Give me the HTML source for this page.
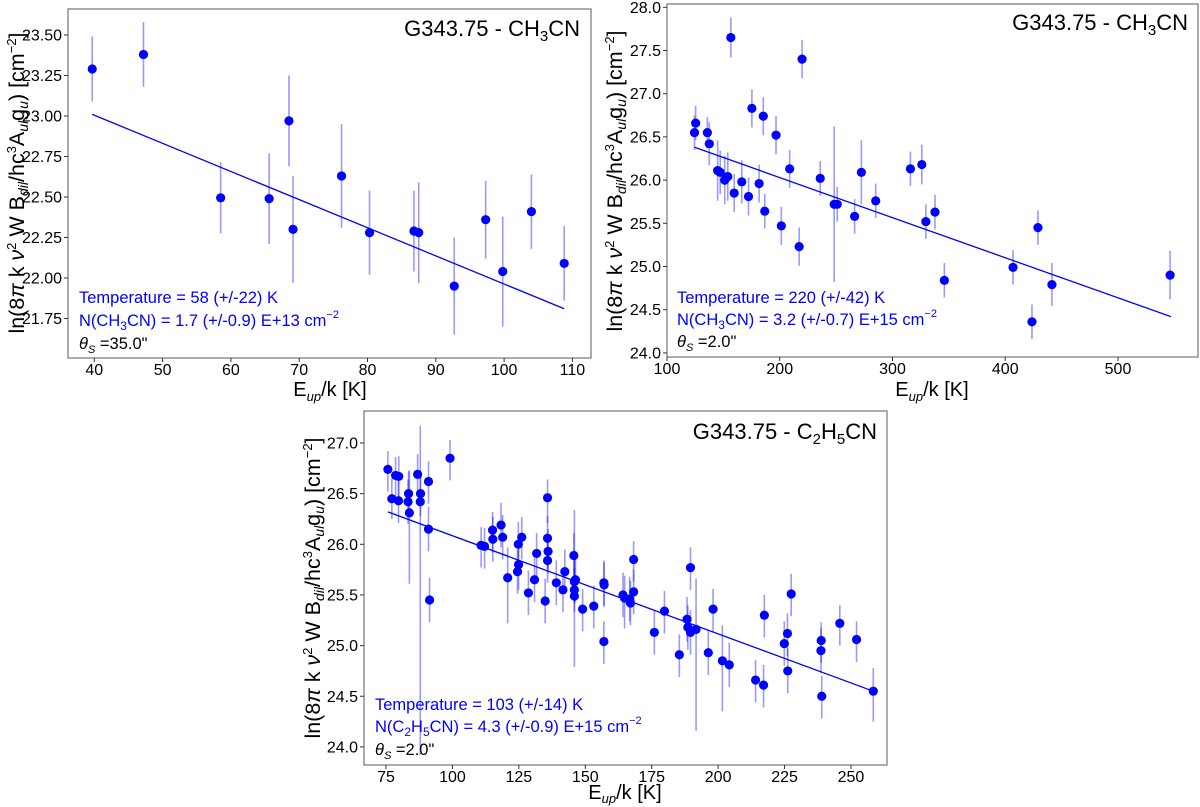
<!DOCTYPE html>
<html><head><meta charset="utf-8"><style>
html,body{margin:0;padding:0;background:#fff;}
svg{display:block;font-family:"Liberation Sans",sans-serif;}
</style></head><body>
<svg id="fig" width="1200" height="807" viewBox="0 0 1200 807"></svg>
<script>
// ---------- Panel 1 data (CH3CN, 35") ----------
const p1X = [39.7,47.2,58.5,65.6,68.5,69.1,76.2,80.3,86.8,87.5,92.7,97.3,99.8,104.0,108.8];
const p1Y = [23.29,23.38,22.495,22.49,22.97,22.30,22.63,22.28,22.29,22.28,21.95,22.36,22.04,22.41,22.09];
const p1Err = [0.2,0.2,0.22,0.28,0.28,0.33,0.32,0.26,0.25,0.31,0.3,0.24,0.34,0.23,0.23];
const p1Fit = [[39.7,23.01],[108.8,21.81]];
const p1XTicks = [40,50,60,70,80,90,100,110];
const p1YTicks = [21.75,22.00,22.25,22.50,22.75,23.00,23.25,23.50];
// ---------- Panel 2 data (CH3CN, 2") ----------
const p2X = [124.4,125.4,135.8,137.5,144.9,147.2,151.2,153.9,156.6,159.6,166.3,172.3,175.3,181.7,185.4,186.7,196.7,201.4,208.8,217.2,219.8,235.9,248.3,251.0,266.4,272.4,285.1,315.9,326.0,329.6,337.7,346.0,406.9,423.7,429.0,441.4,546.2];
const p2Y = [26.55,26.66,26.55,26.42,26.11,26.09,26.0,26.04,27.65,25.85,25.98,25.81,26.83,25.96,26.74,25.64,26.52,25.47,26.13,25.23,27.40,26.02,25.72,25.72,25.58,26.09,25.76,26.13,26.18,25.52,25.63,24.84,24.99,24.36,25.45,24.79,24.90];
const p2Err = [0.2,0.2,0.18,0.25,0.35,0.25,0.28,0.28,0.23,0.22,0.25,0.22,0.22,0.22,0.22,0.2,0.22,0.22,0.22,0.22,0.22,0.2,0.9,0.2,0.2,0.37,0.2,0.2,0.23,0.2,0.2,0.2,0.2,0.2,0.2,0.25,0.28];
const p2Fit = [[124.4,26.38],[546.9,24.42]];
const p2XTicks = [100,200,300,400,500];
const p2YTicks = [24.0,24.5,25.0,25.5,26.0,26.5,27.0,27.5,28.0];
// ---------- Panel 3 data (C2H5CN, 2") ----------
const p3X = [75.7,77.2,78.6,79.8,79.7,83.5,83.3,83.8,86.9,88.0,87.9,91.0,91.0,91.4,99.1,110.8,112.1,115.1,115.2,118.3,118.9,120.8,124.5,124.8,124.9,126.1,128.6,130.9,131.7,134.9,135.8,135.8,136.0,135.8,139.1,141.6,142.3,145.7,145.9,145.9,145.9,146.3,149.0,153.2,157.0,157.1,157.0,164.2,164.8,166.7,167.0,168.2,168.2,176.0,179.8,185.4,188.3,188.6,189.6,189.6,191.7,196.3,198.1,201.6,204.2,214.1,217.1,217.4,224.9,226.1,226.2,227.5,238.8,238.7,239.0,245.8,252.1,258.4];
const p3Y = [26.74,26.45,26.68,26.67,26.43,26.50,26.42,26.31,26.69,26.50,26.42,26.62,26.15,25.45,26.85,25.99,25.98,26.14,26.05,26.19,26.07,25.67,25.73,26.00,25.80,26.07,25.52,25.65,25.91,25.44,26.46,26.06,25.93,25.84,25.62,25.55,25.73,25.89,25.63,25.55,25.49,25.65,25.36,25.39,25.62,25.60,25.04,25.50,25.47,25.46,25.42,25.85,25.53,25.13,25.34,24.91,25.26,25.18,25.77,25.13,25.16,24.93,25.36,24.85,24.81,24.66,24.61,25.30,25.02,25.12,24.75,25.51,25.05,24.95,24.50,25.22,25.06,24.55];
const p3ErrLo = [0.22,0.2,0.25,0.22,0.22,0.22,0.22,0.7,0.22,0.22,2.5,0.22,0.22,0.22,0.22,0.22,0.22,0.22,0.22,0.22,0.22,0.45,0.22,0.22,0.25,0.22,0.22,0.22,0.3,0.22,0.25,0.3,0.22,0.22,0.22,0.22,0.22,0.22,0.22,0.22,0.7,0.22,0.22,0.22,0.22,0.22,0.22,0.22,0.3,0.22,0.22,0.22,0.22,0.22,0.22,0.22,0.22,0.22,0.22,0.22,1.0,0.22,0.22,0.5,0.22,0.22,0.22,0.22,0.22,0.22,0.22,0.22,0.22,0.22,0.22,0.22,0.22,0.3];
const p3ErrHi = [0.18,0.2,0.18,0.2,0.22,0.22,0.22,0.42,0.2,0.22,0.75,0.2,0.22,0.22,0.18,0.18,0.18,0.18,0.22,0.22,0.22,0.3,0.22,0.22,0.25,0.2,0.22,0.22,0.2,0.22,0.18,0.22,0.22,0.22,0.22,0.22,0.22,0.22,0.22,0.22,0.85,0.22,0.2,0.2,0.22,0.22,0.2,0.22,0.22,0.22,0.22,0.18,0.22,0.22,0.2,0.2,0.22,0.22,0.2,0.22,0.5,0.22,0.2,0.35,0.22,0.2,0.2,0.2,0.22,0.2,0.22,0.2,0.18,0.22,0.2,0.18,0.18,0.23];
const p3Fit = [[75.7,26.32],[258.4,24.55]];
const p3XTicks = [75,100,125,150,175,200,225,250];
const p3YTicks = [24.0,24.5,25.0,25.5,26.0,26.5,27.0];

const NS = "http://www.w3.org/2000/svg";
const svg = document.getElementById('fig');
function mk(tag, attrs, parent){
  const e = document.createElementNS(NS, tag);
  for (const k in attrs) e.setAttribute(k, attrs[k]);
  (parent||svg).appendChild(e);
  return e;
}
function panel(cfg){
  const g = mk('g', {});
  
  
  const xs = v => cfg.x0px + (v - cfg.x0v) * cfg.xk;
  const ys = v => cfg.y0px - (v - cfg.y0v) * cfg.yk;
  for (let i = 0; i < cfg.X.length; i++){
    const lo = cfg.lo[i], hi = cfg.hi[i];
    const e = mk('line', {x1: xs(cfg.X[i]), x2: xs(cfg.X[i]), y1: ys(cfg.Y[i] - lo), y2: ys(cfg.Y[i] + hi), stroke: '#0000ff', 'stroke-opacity': 0.4, 'stroke-width': 1.6}, g);
    
    
  }
  const fl = mk('line', {x1: xs(cfg.fit[0][0]), y1: ys(cfg.fit[0][1]), x2: xs(cfg.fit[1][0]), y2: ys(cfg.fit[1][1]), stroke: '#0000ff', 'stroke-width': 1.3}, g);
  
  
  for (let i = 0; i < cfg.X.length; i++){
    const c = mk('circle', {cx: xs(cfg.X[i]), cy: ys(cfg.Y[i]), r: 4.6, fill: '#0000ff'}, g);
    
    
  }
  const fr = mk('rect', {x: cfg.L, y: cfg.T, width: cfg.R - cfg.L, height: cfg.B - cfg.T, fill: 'none', stroke: '#808080', 'stroke-width': 1.3}, g);
  
  
  cfg.xt.forEach(v => {
    mk('line', {x1: xs(v), x2: xs(v), y1: cfg.B, y2: cfg.B + 4, stroke: '#333', 'stroke-width': 1}, g);
    const t = mk('text', {x: xs(v), y: cfg.B + 17, 'text-anchor': 'middle', 'font-size': 16, fill: '#000'}, g);
    t.textContent = String(v);
    
    
  });
  cfg.yt.forEach(v => {
    mk('line', {x1: cfg.L - 4, x2: cfg.L, y1: ys(v), y2: ys(v), stroke: '#333', 'stroke-width': 1}, g);
    const t = mk('text', {x: cfg.L - 6, y: ys(v) + 5.5, 'text-anchor': 'end', 'font-size': 16, fill: '#000'}, g);
    t.textContent = v.toFixed(cfg.ydec);
    
    
  });
}
panel({name:'panel-ch3cn-35', X:p1X, Y:p1Y, lo:p1Err, hi:p1Err, fit:p1Fit, xt:p1XTicks, yt:p1YTicks, ydec:2,
  L:68, T:9, R:591, B:358, x0v:40, x0px:94.3, xk:6.83, y0v:23.5, y0px:35, yk:162});
panel({name:'panel-ch3cn-2', X:p2X, Y:p2Y, lo:p2Err, hi:p2Err, fit:p2Fit, xt:p2XTicks, yt:p2YTicks, ydec:1,
  L:667, T:4, R:1198, B:357, x0v:100, x0px:667, xk:1.1275, y0v:28, y0px:7.3, yk:86.4});
panel({name:'panel-c2h5cn-2', X:p3X, Y:p3Y, lo:p3ErrLo, hi:p3ErrHi, fit:p3Fit, xt:p3XTicks, yt:p3YTicks, ydec:1,
  L:364, T:411, R:887, B:765, x0v:75, x0px:386, xk:2.657, y0v:27, y0px:443, yk:101.3});
</script>
<svg width="1200" height="807" viewBox="0 0 1200 807" style="position:absolute;left:0;top:0;font-family:'Liberation Sans',sans-serif;">
  <text x="580" y="36" text-anchor="end" font-size="22">G343.75 - CH<tspan font-size="15" dy="5">3</tspan><tspan dy="-5">CN</tspan></text>
  <text x="79" y="303" font-size="16.5" fill="#0000ff">Temperature = 58 (+/-22) K</text>
  <text x="79" y="326" font-size="16.5" fill="#0000ff">N(CH<tspan font-size="12" dy="4">3</tspan><tspan dy="-4">CN) = 1.7 (+/-0.9) E+13 cm</tspan><tspan font-size="11" dy="-8">−2</tspan></text>
  <text x="79" y="349" font-size="16.5" fill="#000"><tspan font-style="italic">θ</tspan><tspan font-size="11" dy="4" font-style="italic">S</tspan><tspan dy="-4"> =35.0"</tspan></text>
  <text x="330" y="396" text-anchor="middle" font-size="20">E<tspan font-size="13" dy="5" font-style="italic">up</tspan><tspan dy="-5">/k [K]</tspan></text>
  <text transform="translate(24,183) rotate(-90)" text-anchor="middle" font-size="21.5">ln(8<tspan font-style="italic">π</tspan> k <tspan font-style="italic">ν</tspan><tspan font-size="13" dy="-8">2</tspan><tspan dy="8"> W B</tspan><tspan font-size="14" dy="4" font-style="italic">dil</tspan><tspan dy="-4">/hc</tspan><tspan font-size="13" dy="-8">3</tspan><tspan dy="8">A</tspan><tspan font-size="14" dy="4" font-style="italic">ul</tspan><tspan dy="-4">g</tspan><tspan font-size="14" dy="4" font-style="italic">u</tspan><tspan dy="-4">) [cm</tspan><tspan font-size="13" dy="-8">−2</tspan><tspan dy="8">]</tspan></text>
  <text x="1188" y="30" text-anchor="end" font-size="22">G343.75 - CH<tspan font-size="15" dy="5">3</tspan><tspan dy="-5">CN</tspan></text>
  <text x="677" y="303" font-size="16.5" fill="#0000ff">Temperature = 220 (+/-42) K</text>
  <text x="677" y="325" font-size="16.5" fill="#0000ff">N(CH<tspan font-size="12" dy="4">3</tspan><tspan dy="-4">CN) = 3.2 (+/-0.7) E+15 cm</tspan><tspan font-size="11" dy="-8">−2</tspan></text>
  <text x="677" y="347" font-size="16.5" fill="#000"><tspan font-style="italic">θ</tspan><tspan font-size="11" dy="4" font-style="italic">S</tspan><tspan dy="-4"> =2.0"</tspan></text>
  <text x="932" y="396" text-anchor="middle" font-size="20">E<tspan font-size="13" dy="5" font-style="italic">up</tspan><tspan dy="-5">/k [K]</tspan></text>
  <text transform="translate(622,181) rotate(-90)" text-anchor="middle" font-size="21.5">ln(8<tspan font-style="italic">π</tspan> k <tspan font-style="italic">ν</tspan><tspan font-size="13" dy="-8">2</tspan><tspan dy="8"> W B</tspan><tspan font-size="14" dy="4" font-style="italic">dil</tspan><tspan dy="-4">/hc</tspan><tspan font-size="13" dy="-8">3</tspan><tspan dy="8">A</tspan><tspan font-size="14" dy="4" font-style="italic">ul</tspan><tspan dy="-4">g</tspan><tspan font-size="14" dy="4" font-style="italic">u</tspan><tspan dy="-4">) [cm</tspan><tspan font-size="13" dy="-8">−2</tspan><tspan dy="8">]</tspan></text>
  <text x="877" y="439" text-anchor="end" font-size="22">G343.75 - C<tspan font-size="15" dy="5">2</tspan><tspan dy="-5">H</tspan><tspan font-size="15" dy="5">5</tspan><tspan dy="-5">CN</tspan></text>
  <text x="375" y="710" font-size="16.5" fill="#0000ff">Temperature = 103 (+/-14) K</text>
  <text x="375" y="732" font-size="16.5" fill="#0000ff">N(C<tspan font-size="12" dy="4">2</tspan><tspan dy="-4">H</tspan><tspan font-size="12" dy="4">5</tspan><tspan dy="-4">CN) = 4.3 (+/-0.9) E+15 cm</tspan><tspan font-size="11" dy="-8">−2</tspan></text>
  <text x="375" y="755" font-size="16.5" fill="#000"><tspan font-style="italic">θ</tspan><tspan font-size="11" dy="4" font-style="italic">S</tspan><tspan dy="-4"> =2.0"</tspan></text>
  <text x="625" y="799" text-anchor="middle" font-size="20">E<tspan font-size="13" dy="4" font-style="italic">up</tspan><tspan dy="-4">/k [K]</tspan></text>
  <text transform="translate(320,588) rotate(-90)" text-anchor="middle" font-size="21.5">ln(8<tspan font-style="italic">π</tspan> k <tspan font-style="italic">ν</tspan><tspan font-size="13" dy="-8">2</tspan><tspan dy="8"> W B</tspan><tspan font-size="14" dy="4" font-style="italic">dil</tspan><tspan dy="-4">/hc</tspan><tspan font-size="13" dy="-8">3</tspan><tspan dy="8">A</tspan><tspan font-size="14" dy="4" font-style="italic">ul</tspan><tspan dy="-4">g</tspan><tspan font-size="14" dy="4" font-style="italic">u</tspan><tspan dy="-4">) [cm</tspan><tspan font-size="13" dy="-8">−2</tspan><tspan dy="8">]</tspan></text>
</svg>
</body></html>
